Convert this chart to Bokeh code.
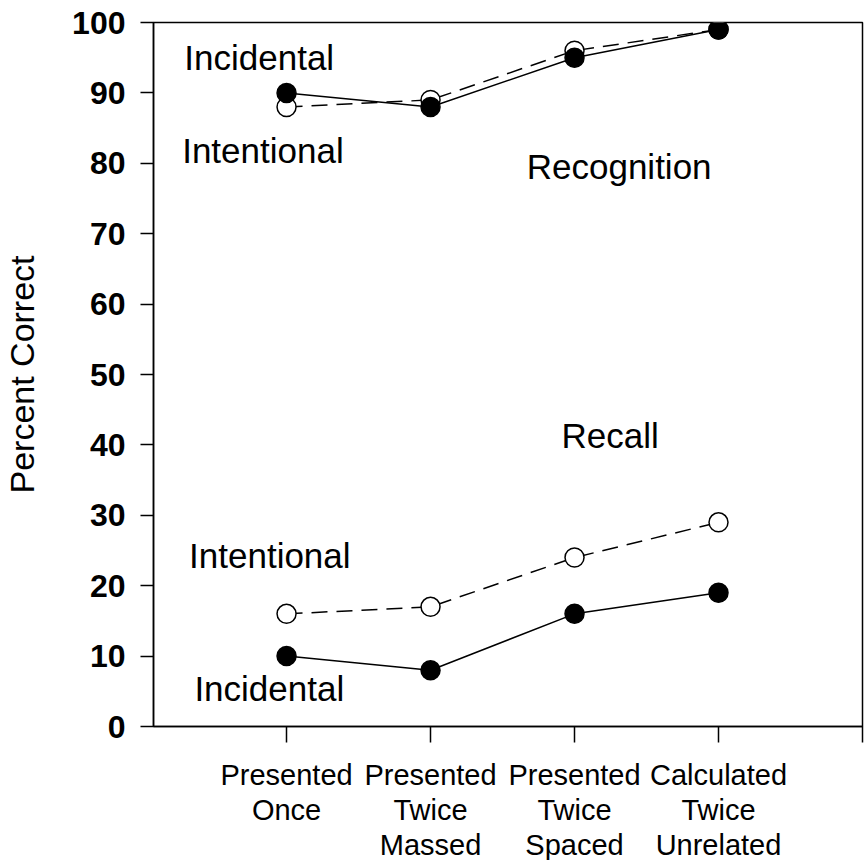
from bokeh.plotting import figure
from bokeh.models import Range1d, FixedTicker, ColumnDataSource
from bokeh.core.properties import value
from bokeh.embed import file_html
from bokeh.resources import INLINE

# ---- data ----
conditions = [1, 2, 3, 4]
condition_labels = ["Presented\nOnce", "Presented\nTwice\nMassed",
                    "Presented\nTwice\nSpaced", "Calculated\nTwice\nUnrelated"]
recog_incidental = [90, 88, 95, 99]
recog_intentional = [88, 89, 96, 99]
recall_intentional = [16, 17, 24, 29]
recall_incidental = [10, 8, 16, 19]
y_ticks = [0, 10, 20, 30, 40, 50, 60, 70, 80, 90, 100]

# annotation texts (positions kept separately)
note_texts = ["Incidental", "Intentional", "Recognition", "Recall", "Intentional", "Incidental"]
note_x = [0.29, 0.275, 2.668, 2.91, 0.323, 0.36]
note_y = [95.0, 81.8, 79.6, 41.3, 24.3, 5.4]

FONT = "Liberation Sans"

p = figure(width=866, height=860, output_backend="svg", toolbar_location=None,
           x_range=Range1d(0.076, 5), y_range=Range1d(0, 100),
           min_border_left=153, min_border_right=4, min_border_top=22, min_border_bottom=134)
p.frame_width = 709
p.frame_height = 704
p.xgrid.visible = False
p.ygrid.visible = False
p.outline_line_color = "black"
p.outline_line_width = 1.5
p.background_fill_color = "white"
p.border_fill_color = "white"

# y axis
ya = p.yaxis[0]
ya.ticker = FixedTicker(ticks=y_ticks)
ya.major_tick_out = 13
ya.major_tick_in = 0
ya.minor_tick_out = 0
ya.minor_tick_in = 0
ya.axis_line_width = 1.5
ya.major_tick_line_width = 1.5
ya.major_label_text_font = FONT
ya.major_label_text_font_size = "32px"
ya.major_label_text_font_style = "bold"
ya.major_label_text_color = "black"
ya.major_label_standoff = 15
ya.axis_label = "Percent Correct"
ya.axis_label_text_font = FONT
ya.axis_label_text_font_size = "34px"
ya.axis_label_text_font_style = "normal"
ya.axis_label_text_color = "black"
ya.axis_label_standoff = 28

# x axis
xa = p.xaxis[0]
xa.ticker = FixedTicker(ticks=conditions + [5])
overrides = {c: lab for c, lab in zip(conditions, condition_labels)}
overrides[5] = ""
xa.major_label_overrides = overrides
xa.major_tick_out = 16
xa.major_tick_in = 0
xa.minor_tick_out = 0
xa.minor_tick_in = 0
xa.axis_line_width = 1.5
xa.major_tick_line_width = 1.5
xa.major_label_text_font = FONT
xa.major_label_text_font_size = "29px"
xa.major_label_text_color = "black"
xa.major_label_text_line_height = 1.1
xa.major_label_standoff = 16

# series
def series(vals, dashed, filled):
    src = ColumnDataSource(dict(x=conditions, y=vals))
    p.line("x", "y", source=src, line_color="black", line_width=1.5,
           line_dash="16 9" if dashed else "solid")
    p.scatter("x", "y", source=src, size=19, marker="circle",
              fill_color="black" if filled else "white",
              line_color="black", line_width=1.5)

series(recog_intentional, True, False)
series(recog_incidental, False, True)
series(recall_intentional, True, False)
series(recall_incidental, False, True)

p.text(x=note_x, y=note_y, text=note_texts, text_font=value(FONT),
       text_font_size="35px", text_color="black", text_baseline="alphabetic",
       text_align="left")

open("out.html", "w").write(file_html(p, INLINE))
